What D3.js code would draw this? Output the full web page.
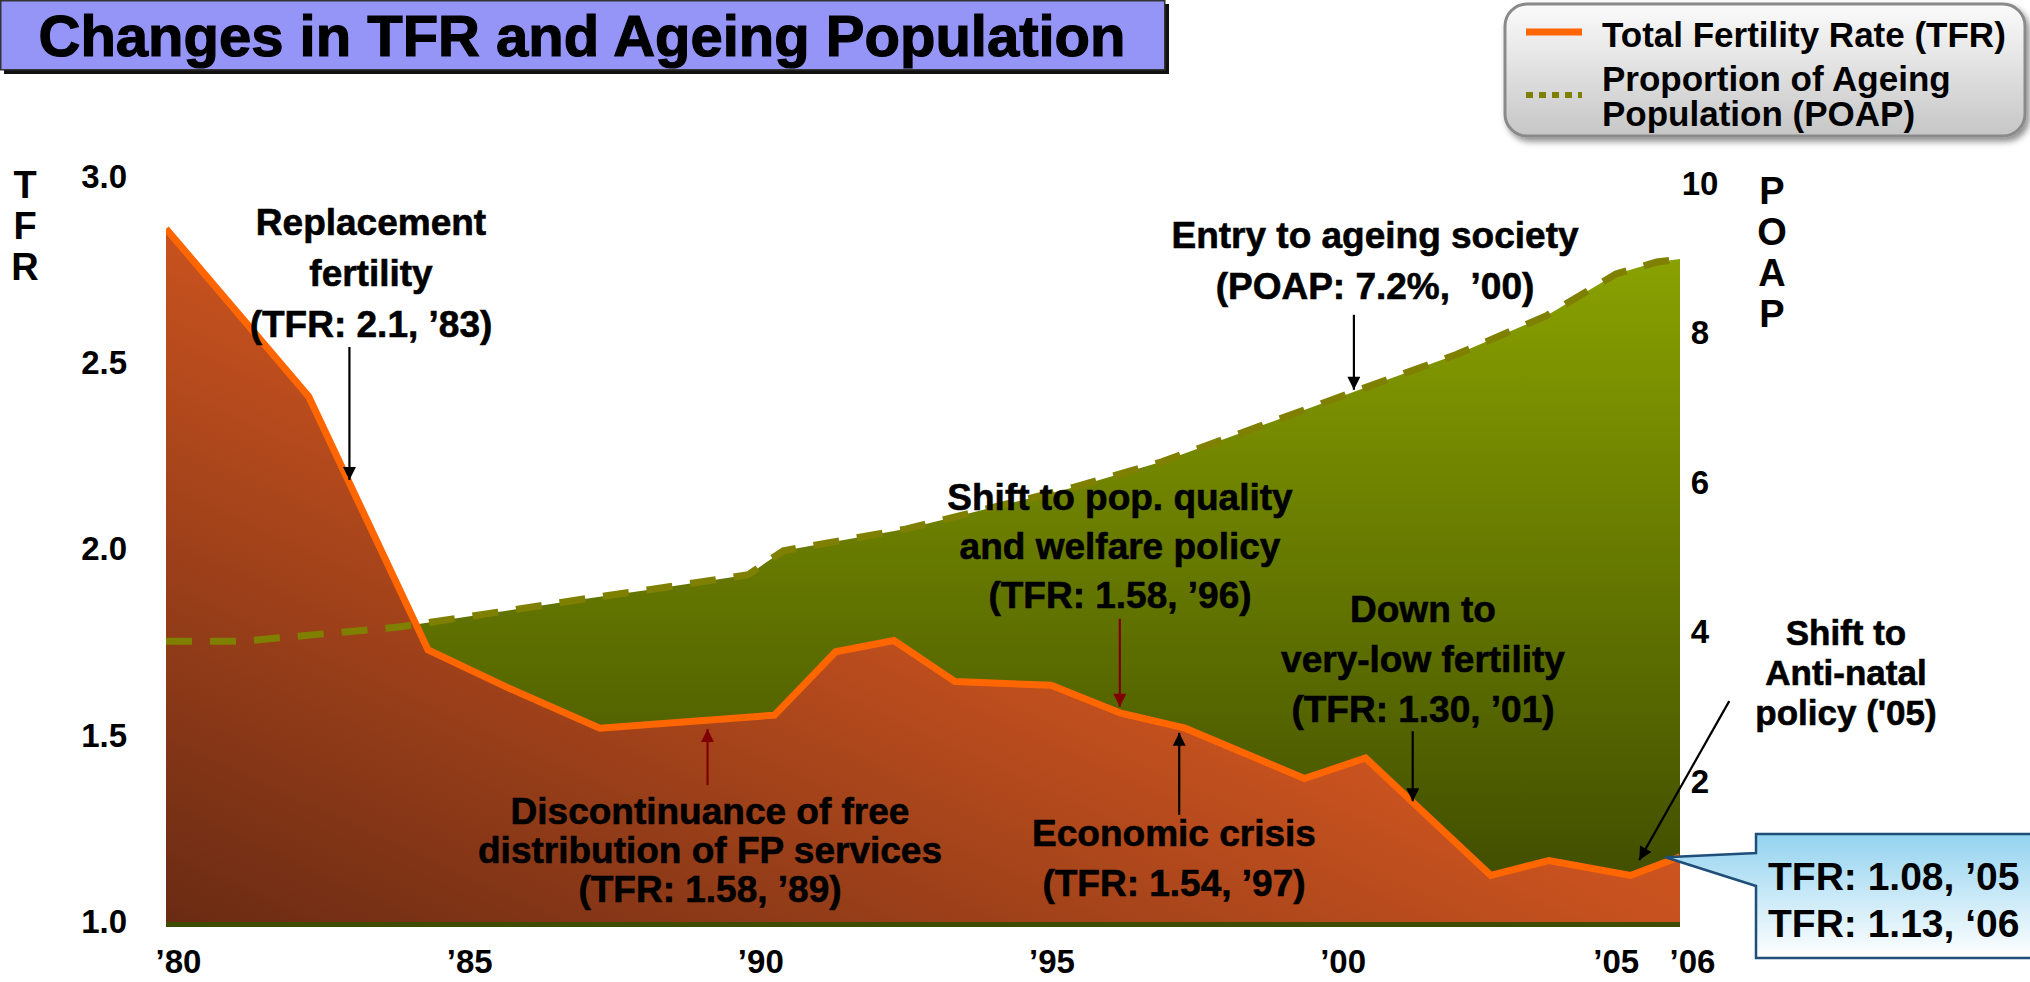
<!DOCTYPE html>
<html>
<head>
<meta charset="utf-8">
<title>Changes in TFR and Ageing Population</title>
<script src="https://cdn.jsdelivr.net/npm/d3@7"></script>
<style>
  html, body { margin: 0; padding: 0; background: #fff; }
  svg { display: block; }
  text { font-family: "Liberation Sans", Arial, sans-serif; font-weight: bold; fill: #000; white-space: pre; }
  .heavy { stroke: #000; stroke-width: 0.6px; }
</style>
</head>
<body>
<div id="chart"></div>
<script>
// values (x in years, fractional where the kinks sit between years)
var tfrYear   = [1980, 1982.45, 1984.5, 1985.85, 1987.45, 1990.45, 1991.5, 1992.5, 1993.55, 1995.2, 1996.4, 1997.5, 1999.55, 2000.6, 2002.75, 2003.75, 2005.15, 2006];
var tfrValue  = [2.86, 2.41, 1.73, 1.63, 1.52, 1.555, 1.725, 1.755, 1.645, 1.635, 1.56, 1.52, 1.385, 1.44, 1.125, 1.165, 1.125, 1.175];
var poapYear  = [1980, 1981.3, 1984, 1985.7, 1987.3, 1988.3, 1990, 1990.6, 1992.7, 1995.6, 1997.1, 1998.8, 2000.45, 2002.15, 2003.7, 2004.9, 2005.6, 2006];
var poapValue = [3.88, 3.88, 4.07, 4.27, 4.46, 4.57, 4.77, 5.09, 5.38, 5.94, 6.28, 6.76, 7.23, 7.71, 8.23, 8.79, 8.95, 8.99];

var xTickYears = [1980, 1985, 1990, 1995, 2000, 2005, 2006];
var tfrTicks   = [1.0, 1.5, 2.0, 2.5, 3.0];
var poapTicks  = [2, 4, 6, 8, 10];

var titleText    = "Changes in TFR and Ageing Population";
var legendLabels = [["Total Fertility Rate (TFR)"], ["Proportion of Ageing", "Population (POAP)"]];
var calloutLines = ["TFR: 1.08, \u201905", "TFR: 1.13, \u201806"];

var width = 2030, height = 982;

var svg = d3.select("#chart").append("svg")
    .attr("width", width)
    .attr("height", height);

//scales
var x  = d3.scaleLinear().domain([1980, 2006]).range([166, 1680]);
var yL = d3.scaleLinear().domain([1, 3]).range([922, 176.5]);
var yR = d3.scaleLinear().domain([0, 10]).range([931.5, 183.5]);
var tfrAt  = d3.scaleLinear().domain(tfrYear).range(tfrValue);
var poapAt = d3.scaleLinear().domain(poapYear).range(poapValue);

var tfr  = tfrYear.map(function(d, i) { return {year: d, value: tfrValue[i]}; });
var poap = poapYear.map(function(d, i) { return {year: d, value: poapValue[i]}; });

//defs: gradients, markers, clip
var defs = svg.append("defs");

var redGrad = defs.append("linearGradient").attr("id", "redGrad")
    .attr("x1", 0).attr("y1", 1).attr("x2", 1).attr("y2", 0);
redGrad.append("stop").attr("offset", 0).attr("stop-color", "#6a2b13");
redGrad.append("stop").attr("offset", 0.5).attr("stop-color", "#c8521f");
redGrad.append("stop").attr("offset", 1).attr("stop-color", "#e8692c");

var greenGrad = defs.append("linearGradient").attr("id", "greenGrad")
    .attr("gradientUnits", "userSpaceOnUse")
    .attr("x1", 0).attr("y1", 255).attr("x2", 0).attr("y2", 900);
greenGrad.append("stop").attr("offset", 0).attr("stop-color", "#8aa200");
greenGrad.append("stop").attr("offset", 1).attr("stop-color", "#3f4c00");

var boxGrad = defs.append("linearGradient").attr("id", "boxGrad")
    .attr("x1", 0).attr("y1", 0).attr("x2", 0).attr("y2", 1);
boxGrad.append("stop").attr("offset", 0).attr("stop-color", "#fbfbfb");
boxGrad.append("stop").attr("offset", 1).attr("stop-color", "#c6c6c6");

var calloutGrad = defs.append("linearGradient").attr("id", "calloutGrad")
    .attr("x1", 0).attr("y1", 0).attr("x2", 0).attr("y2", 1);
calloutGrad.append("stop").attr("offset", 0).attr("stop-color", "#93d3f0");
calloutGrad.append("stop").attr("offset", 1).attr("stop-color", "#ffffff");

var shadow = defs.append("filter").attr("id", "shadow")
    .attr("x", "-10%").attr("y", "-20%").attr("width", "130%").attr("height", "150%");
shadow.append("feDropShadow").attr("dx", 3).attr("dy", 4).attr("stdDeviation", 3)
    .attr("flood-color", "#000").attr("flood-opacity", 0.45);

[["arrowBlack", "#000"], ["arrowRed", "#800000"]].forEach(function(m) {
    defs.append("marker").attr("id", m[0])
        .attr("viewBox", "0 0 10 10")
        .attr("refX", 10).attr("refY", 5)
        .attr("markerUnits", "userSpaceOnUse")
        .attr("markerWidth", 14).attr("markerHeight", 13)
        .attr("orient", "auto")
      .append("path").attr("d", "M0,0 L10,5 L0,10 z").attr("fill", m[1]);
});

defs.append("clipPath").attr("id", "plotClip")
  .append("rect").attr("x", x(1980)).attr("y", 0)
    .attr("width", x(2006) - x(1980)).attr("height", 927);

//areas and lines
var plot = svg.append("g").attr("clip-path", "url(#plotClip)");

var greenArea = d3.area()
    .x(function(d) { return x(d.year); })
    .y0(yR(0))
    .y1(function(d) { return yR(d.value); });

var redArea = d3.area()
    .x(function(d) { return x(d.year); })
    .y0(yL(1))
    .y1(function(d) { return yL(d.value); });

plot.append("path").datum(poap).attr("d", greenArea).attr("fill", "url(#greenGrad)");
plot.append("path").datum(tfr).attr("d", redArea).attr("fill", "url(#redGrad)");

plot.append("path").datum(poap)
    .attr("d", d3.line().x(function(d) { return x(d.year); }).y(function(d) { return yR(d.value); }))
    .attr("fill", "none")
    .attr("stroke", "#808000")
    .attr("stroke-width", 7)
    .attr("stroke-dasharray", "26,18");

plot.append("path").datum(tfr)
    .attr("d", d3.line().x(function(d) { return x(d.year); }).y(function(d) { return yL(d.value); }))
    .attr("fill", "none")
    .attr("stroke", "#ff6600")
    .attr("stroke-width", 7)
    .attr("stroke-linejoin", "miter");

//axes
var axisFont = 33;

var leftAxis = svg.append("g")
    .attr("transform", "translate(" + x(1980) + ",0)")
    .call(d3.axisLeft(yL).tickValues(tfrTicks).tickFormat(d3.format(".1f")).tickSize(0).tickPadding(39));

var rightAxis = svg.append("g")
    .attr("transform", "translate(" + x(2006) + ",0)")
    .call(d3.axisRight(yR).tickValues(poapTicks).tickSize(0).tickPadding(20));
rightAxis.selectAll("text").attr("text-anchor", "middle");

var bottomAxis = svg.append("g")
    .attr("transform", "translate(0," + yL(1) + ")")
    .call(d3.axisBottom(x).tickValues(xTickYears)
        .tickFormat(function(d) { return "\u2019" + String(d).slice(2); })
        .tickSize(0).tickPadding(28));
bottomAxis.selectAll("text").attr("dx", function(d) { return d === 2005 ? -6 : 12; });

[leftAxis, rightAxis, bottomAxis].forEach(function(a) {
    a.select(".domain").remove();
    a.attr("font-family", null).attr("font-size", null);
    a.selectAll("text").style("font-size", axisFont + "px").attr("fill", "#000");
});

//stacked axis titles
svg.append("g").selectAll("text").data(["T", "F", "R"]).enter().append("text")
    .attr("x", 25).attr("y", function(d, i) { return 198 + i * 41; })
    .attr("text-anchor", "middle").style("font-size", "38px")
    .text(function(d) { return d; });

svg.append("g").selectAll("text").data(["P", "O", "A", "P"]).enter().append("text")
    .attr("x", 1772).attr("y", function(d, i) { return 204 + i * 41; })
    .attr("text-anchor", "middle").style("font-size", "38px")
    .text(function(d) { return d; });

//annotations
var notes = [
    {lines: ["Replacement", "fertility", "(TFR: 2.1, \u201983)"], x: 371, y: 235, lh: 51, size: 37},
    {lines: ["Entry to ageing society", "(POAP: 7.2%,  \u201900)"], x: 1375, y: 248, lh: 51, size: 37},
    {lines: ["Shift to pop. quality", "and welfare policy", "(TFR: 1.58, \u201996)"], x: 1120, y: 510, lh: 49, size: 37},
    {lines: ["Down to", "very-low fertility", "(TFR: 1.30, \u201901)"], x: 1423, y: 622, lh: 50, size: 37},
    {lines: ["Discontinuance of free", "distribution of FP services", "(TFR: 1.58, \u201989)"], x: 710, y: 824, lh: 39, size: 37},
    {lines: ["Economic crisis", "(TFR: 1.54, \u201997)"], x: 1174, y: 846, lh: 50, size: 37},
    {lines: ["Shift to", "Anti-natal", "policy ('05)"], x: 1846, y: 645, lh: 40, size: 35}
];

notes.forEach(function(n) {
    svg.append("g").selectAll("text").data(n.lines).enter().append("text")
        .attr("class", "heavy")
        .attr("x", n.x)
        .attr("y", function(d, i) { return n.y + i * n.lh; })
        .attr("text-anchor", "middle")
        .style("font-size", n.size + "px")
        .text(function(d) { return d; });
});

// arrows: tip sits on the series, start is an offset from the tip
function onTfr(yr, off) { return [x(yr), yL(tfrAt(yr)) + off]; }
function onPoap(yr, off) { return [x(yr), yR(poapAt(yr)) + off]; }

var arrows = [
    {tip: onTfr(1983.15, -3), dx: 0, dy: -133, m: "arrowBlack", c: "#000"},
    {tip: onPoap(2000.4, -2), dx: 0, dy: -75, m: "arrowBlack", c: "#000"},
    {tip: onTfr(1996.38, -6), dx: 0, dy: -88, m: "arrowRed", c: "#800000"},
    {tip: onTfr(2001.41, -1), dx: 0, dy: -70, m: "arrowBlack", c: "#000"},
    {tip: onTfr(1989.3, 9), dx: 0, dy: 56, m: "arrowRed", c: "#800000"},
    {tip: onTfr(1997.4, 6), dx: 0, dy: 82, m: "arrowBlack", c: "#000"},
    {tip: onTfr(2005.3, -12), dx: 90, dy: -159, m: "arrowBlack", c: "#000"}
];

svg.append("g").selectAll("line").data(arrows).enter().append("line")
    .attr("x1", function(d) { return d.tip[0] + d.dx; })
    .attr("y1", function(d) { return d.tip[1] + d.dy; })
    .attr("x2", function(d) { return d.tip[0]; })
    .attr("y2", function(d) { return d.tip[1]; })
    .attr("stroke", function(d) { return d.c; })
    .attr("stroke-width", 2.2)
    .attr("marker-end", function(d) { return "url(#" + d.m + ")"; });

//callout
var cTip = onTfr(2005.75, -5);
var callout = svg.append("g");
callout.append("path")
    .attr("d", "M1756,834 H2036 V958 H1756 V886 L" + cTip[0] + "," + cTip[1] + " L1756,853 Z")
    .attr("fill", "url(#calloutGrad)")
    .attr("stroke", "#1f4e79")
    .attr("stroke-width", 2.5)
    .attr("stroke-linejoin", "miter");
callout.selectAll("text").data(calloutLines).enter().append("text")
    .attr("x", 1768)
    .attr("y", function(d, i) { return 890 + i * 47; })
    .style("font-size", "39px")
    .text(function(d) { return d; });

//title box
svg.append("rect").attr("x", 4).attr("y", 4).attr("width", 1165).attr("height", 70).attr("fill", "#111");
svg.append("rect").attr("x", 0.75).attr("y", 0.75).attr("width", 1164).attr("height", 69)
    .attr("fill", "#9595f7").attr("stroke", "#333").attr("stroke-width", 1.5);
svg.append("text")
    .attr("x", 582).attr("y", 56)
    .attr("text-anchor", "middle")
    .style("font-size", "58px")
    .style("stroke", "#000").style("stroke-width", "1.2px")
    .text(titleText);

//legend
var legend = svg.append("g");
legend.append("rect")
    .attr("x", 1505).attr("y", 4).attr("width", 520).attr("height", 132)
    .attr("rx", 22).attr("ry", 22)
    .attr("fill", "url(#boxGrad)")
    .attr("stroke", "#8a8a8a").attr("stroke-width", 3)
    .attr("filter", "url(#shadow)");
legend.append("line")
    .attr("x1", 1526).attr("x2", 1582).attr("y1", 32).attr("y2", 32)
    .attr("stroke", "#ff6600").attr("stroke-width", 7);
legend.append("line")
    .attr("x1", 1526).attr("x2", 1582).attr("y1", 95).attr("y2", 95)
    .attr("stroke", "#7f7f00").attr("stroke-width", 6).attr("stroke-dasharray", "7,6");
legend.append("text").attr("x", 1602).attr("y", 47).style("font-size", "35px").text(legendLabels[0][0]);
legend.selectAll(".l2").data(legendLabels[1]).enter().append("text")
    .attr("x", 1602)
    .attr("y", function(d, i) { return 91 + i * 35; })
    .style("font-size", "35px")
    .text(function(d) { return d; });
</script>
</body>
</html>
